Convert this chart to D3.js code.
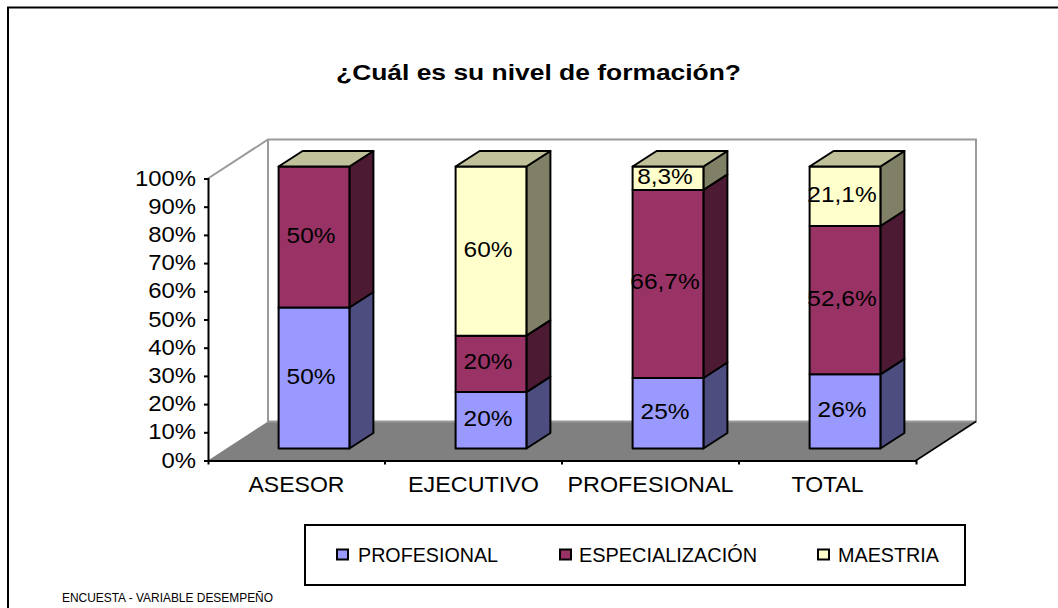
<!DOCTYPE html>
<html lang="es"><head><meta charset="utf-8">
<script src="https://cdn.jsdelivr.net/npm/d3@7/dist/d3.min.js"></script>
<style>html,body{margin:0;padding:0;background:#fff;overflow:hidden}svg{display:block}text{font-family:"Liberation Sans",Arial,sans-serif;fill:#000}</style>
</head><body><svg id="c" width="1058" height="608"></svg>
<script>
const title = "¿Cuál es su nivel de formación?";
const footer = "ENCUESTA - VARIABLE DESEMPEÑO";
const categories = ["ASESOR","EJECUTIVO","PROFESIONAL","TOTAL"];
const seriesNames = ["PROFESIONAL","ESPECIALIZACIÓN","MAESTRIA"];
const profesional = [50,20,25,26.3];
const especializacion = [50,20,66.7,52.6];
const maestria = [0,60,8.3,21.1];
const profesionalLabels = ["50%","20%","25%","26%"];
const especializacionLabels = ["50%","20%","66,7%","52,6%"];
const maestriaLabels = ["","60%","8,3%","21,1%"];
const yTicks = [0,10,20,30,40,50,60,70,80,90,100];

const front = ["#9999FF","#993366","#FFFFCC"];
const side = ["#4D4D80","#4D1A33","#808066"];
const topFace = "#C0C09A";
const W = {left:208,right:916,bottom:460.5,top:178.5,dx:60,dy:39};
const B = {dx:17.5,dy:12,depthX:24,depthY:15.5};
const svg = d3.select("#c");

// outer frame
svg.append("path").attr("d","M8,608V7.5H1058").attr("fill","none").attr("stroke","#000").attr("stroke-width",2);

function fit(sel,w){ sel.attr("textLength",w).attr("lengthAdjust","spacingAndGlyphs"); return sel; }
function stretch(sel,k){ sel.each(function(){ const n=this; if(n.textContent){ d3.select(n).attr("textLength",n.getComputedTextLength()*k).attr("lengthAdjust","spacingAndGlyphs"); } }); }

fit(svg.append("text").text(title).attr("x",538.5).attr("y",80).attr("text-anchor","middle")
  .attr("font-size",22).attr("font-weight","bold"),405);

const x = d3.scaleBand().domain(categories).range([W.left,W.right]).paddingInner(0.6).paddingOuter(0.3);
const xAxisScale = d3.scaleBand().domain(categories).range([W.left,W.right]);
const y = d3.scaleLinear().domain([0,100]).range([W.bottom,W.top]);

// walls and floor
const wall = svg.append("g");
const bx=W.left+W.dx, by=W.bottom-W.dy, tx=W.right+W.dx, ty=W.top-W.dy;
wall.append("path").attr("d",`M${W.left},${W.bottom}L${bx},${by}H${tx}L${W.right},${W.bottom}Z`).attr("fill","#808080");
wall.append("path").attr("d",`M${W.left},${W.top}L${bx},${ty}H${tx}V${by}H${bx}V${ty}`).attr("fill","none").attr("stroke","#9a9a9a").attr("stroke-width",2);
wall.append("path").attr("d",`M${W.right},${W.bottom}L${tx},${by}`).attr("fill","none").attr("stroke","#000").attr("stroke-width",1.5);

// axes
const yAxis = svg.append("g").attr("transform",`translate(${W.left},0)`)
  .call(d3.axisLeft(y).tickValues(yTicks).tickFormat(d=>d+"%").tickSize(4).tickPadding(8));
const xAxis = svg.append("g").attr("transform",`translate(0,${W.bottom})`)
  .call(d3.axisBottom(xAxisScale).tickSize(0).tickPadding(20).tickSizeOuter(4));
[yAxis,xAxis].forEach(a=>{a.selectAll("path,line").attr("stroke","#000").attr("stroke-width",2);a.selectAll("text").attr("font-size",22).attr("font-family",null);a.attr("font-family",null).attr("font-size",null);});
yAxis.selectAll("text").attr("dy",null).attr("y",6.5).attr("x",-12);
stretch(yAxis.selectAll("text"),1.085);
xAxis.selectAll("text").attr("dy",null).attr("y",31);
const catWidths=[96,131,166,72];
xAxis.selectAll("text").each(function(d,i){fit(d3.select(this),catWidths[i]);});
xAxis.selectAll(".tick").data(categories).each(function(d,i){
  if(i<categories.length-1){ const px=W.left+xAxisScale.step()*(i+1);
    xAxis.append("line").attr("x1",px).attr("x2",px).attr("y1",0).attr("y2",4).attr("stroke","#000").attr("stroke-width",2);}
});

// stacked 3-D bars
const rows = categories.map((c,i)=>({cat:c,a:profesional[i],b:especializacion[i],c:maestria[i]}));
const stacked = d3.stack().keys(["a","b","c"])(rows);
const labelSets=[profesionalLabels,especializacionLabels,maestriaLabels];
const barsG=svg.append("g").attr("stroke","#000").attr("stroke-width",2).attr("stroke-linejoin","round");
const X0=d=>x(d.data.cat)+B.dx, Y=v=>y(v)-B.dy;
stacked.forEach((s,si)=>{
  const g=barsG.append("g");
  const ds=s.filter(d=>d[1]>d[0]);
  g.selectAll(".side").data(ds).join("path").attr("fill",side[si])
    .attr("d",d=>{const r=X0(d)+x.bandwidth();return `M${r},${Y(d[0])}L${r+B.depthX},${Y(d[0])-B.depthY}V${Y(d[1])-B.depthY}L${r},${Y(d[1])}Z`;});
  g.selectAll(".front").data(ds).join("rect").attr("fill",front[si])
    .attr("x",X0).attr("width",x.bandwidth()).attr("y",d=>Y(d[1])).attr("height",d=>Y(d[0])-Y(d[1]));
  g.selectAll(".top").data(ds.filter(d=>d[1]>=99.9)).join("path").attr("fill",topFace)
    .attr("d",d=>{const l=X0(d),t=Y(d[1]);return `M${l},${t}L${l+B.depthX},${t-B.depthY}H${l+x.bandwidth()+B.depthX}L${l+x.bandwidth()},${t}Z`;});
});
const labelsG=svg.append("g");
stacked.forEach((s,si)=>{
  s.forEach((d,i)=>{
    const lab=labelSets[si][i]; if(!lab) return;
    labelsG.append("text").text(lab).attr("x",X0(d)+x.bandwidth()/2-3).attr("y",(Y(d[0])+Y(d[1]))/2+5.5)
      .attr("text-anchor","middle").attr("font-size",22);
  });
});
stretch(labelsG.selectAll("text"),1.11);

// legend
const lg=svg.append("g");
lg.append("rect").attr("x",305).attr("y",525).attr("width",660).attr("height",60).attr("fill","#fff").attr("stroke","#000").attr("stroke-width",2);
const swatchX=[337,560,818], legendTextX=[358,579,838], legendTextW=[140,178,101];
seriesNames.forEach((n,i)=>{
  lg.append("rect").attr("x",swatchX[i]).attr("y",549.5).attr("width",11).attr("height",10).attr("fill",front[i]).attr("stroke","#000").attr("stroke-width",2);
  fit(lg.append("text").text(n).attr("x",legendTextX[i]).attr("y",562).attr("font-size",20),legendTextW[i]);
});
fit(svg.append("text").text(footer).attr("x",62).attr("y",602).attr("font-size",13),211);
</script></body></html>
